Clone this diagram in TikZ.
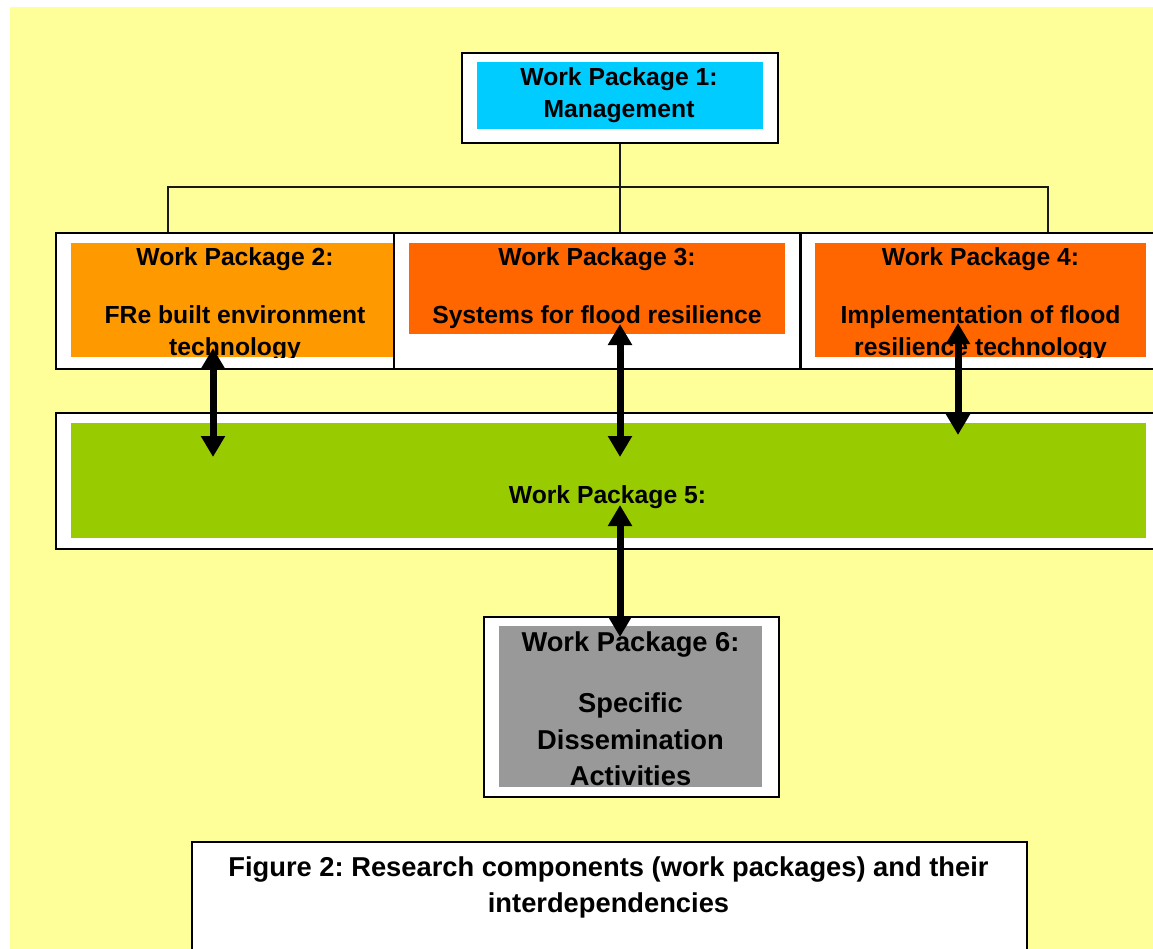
\documentclass[tikz,border=0pt]{standalone}
\usepackage{fontspec}
\setmainfont{Liberation Sans}
\usetikzlibrary{arrows.meta}
\frenchspacing
\definecolor{bgyellow}{HTML}{FFFF99}
\definecolor{wpcyan}{HTML}{00CCFF}
\definecolor{wporange}{HTML}{FF9900}
\definecolor{wpred}{HTML}{FF6600}
\definecolor{wpgreen}{HTML}{99CC00}
\definecolor{wpgray}{HTML}{999999}
\tikzset{
  outerbox/.style={draw=black, line width=1.8pt, fill=white, inner sep=0pt, anchor=north west},
  innerbox/.style={inner sep=0pt, anchor=north west, draw=none},
  wptext/.style={inner sep=0pt, anchor=base, font=\bfseries\fontsize{24.7}{30}\selectfont\frenchspacing},
  bigtext/.style={inner sep=0pt, anchor=base, font=\bfseries\fontsize{27.3}{33}\selectfont\frenchspacing},
  connector/.style={draw=black!90, line width=1.5pt},
  bigarrow/.style={line width=7pt, {Triangle[width=23pt,length=21pt]}-{Triangle[width=23pt,length=21pt]}}
}
\begin{document}
\begin{tikzpicture}[x=1pt,y=-1pt]
\clip (0,0) rectangle (1153,948);
\fill[white] (0,0) rectangle (1153,948);
\fill[bgyellow] (10,7) rectangle (1170,960);

% WP1
\node[outerbox, minimum width=316pt, minimum height=90pt] (wp1o) at (461,52) {};
\node[innerbox, fill=wpcyan, minimum width=286pt, minimum height=67pt] (wp1i) at (477,62) {};
\node[wptext] (wp1a) at (619,85) {Work Package 1:};
\node[wptext] (wp1b) at (619,117) {Management};

% WP2
\node[outerbox, minimum width=338pt, minimum height=136pt] (wp2o) at (55,232) {};
\node[innerbox, fill=wporange, minimum width=322pt, minimum height=114pt] (wp2i) at (71,243) {};
\begin{scope}
\clip (71,243) rectangle (393,357);
\node[wptext] (wp2a) at (235,265) {Work Package 2:};
\node[wptext] (wp2b) at (235,323) {FRe built environment};
\node[wptext] (wp2c) at (235,355) {technology};
\end{scope}

% WP3
\node[outerbox, minimum width=406pt, minimum height=136pt] (wp3o) at (393,232) {};
\node[innerbox, fill=wpred, minimum width=376pt, minimum height=91pt] (wp3i) at (409,243) {};
\node[wptext] (wp3a) at (597,265) {Work Package 3:};
\node[wptext] (wp3b) at (597,323) {Systems for flood resilience};

% WP4
\node[outerbox, minimum width=370pt, minimum height=136pt] (wp4o) at (800,232) {};
\node[innerbox, fill=wpred, minimum width=331pt, minimum height=114pt] (wp4i) at (815,243) {};
\begin{scope}
\clip (815,243) rectangle (1146,357);
\node[wptext] (wp4a) at (980.5,265) {Work Package 4:};
\node[wptext] (wp4b) at (980.5,323) {Implementation of flood};
\node[wptext] (wp4c) at (980.5,355) {resilience technology};
\end{scope}

% WP5
\node[outerbox, minimum width=1115pt, minimum height=136pt] (wp5o) at (55,412) {};
\node[innerbox, fill=wpgreen, minimum width=1075pt, minimum height=115pt] (wp5i) at (71,423) {};
\node[wptext] (wp5a) at (607.5,503) {Work Package 5:};

% WP6
\node[outerbox, minimum width=295pt, minimum height=180pt] (wp6o) at (483,616) {};
\node[innerbox, fill=wpgray, minimum width=263pt, minimum height=161pt] (wp6i) at (499,626) {};
\begin{scope}
\clip (499,626) rectangle (762,787);
\node[bigtext] (wp6a) at (630.5,651) {Work Package 6:};
\node[bigtext] (wp6b) at (630.5,712) {Specific};
\node[bigtext] (wp6c) at (630.5,749) {Dissemination};
\node[bigtext] (wp6d) at (630.5,785) {Activities};
\end{scope}

% Caption
\node[outerbox, minimum width=835pt, minimum height=140pt] (cap) at (191,841) {};
\node[bigtext] (capa) at (608.5,876) {Figure 2: Research components (work packages) and their};
\node[bigtext] (capb) at (608.5,912) {interdependencies};

% Tree connector
\coordinate (barL) at (168,187);
\coordinate (barR) at (1048,187);
\draw[connector] (wp1o.south) -- (wp1o.south |- barL);
\draw[connector] (barL |- wp2o.north) -- (barL) -- (barR) -- (barR |- wp4o.north);
\draw[connector] (wp1o.south |- barL) -- (wp1o.south |- wp3o.north);

% Double arrows
\coordinate (a1t) at (213,348);
\coordinate (a1b) at (213,457);
\coordinate (a2t) at (620,324);
\coordinate (a2b) at (620,457);
\coordinate (a3t) at (958,323);
\coordinate (a3b) at (958,435);
\coordinate (a4t) at (620,505);
\coordinate (a4b) at (620,637);
\draw[bigarrow] (a1t) -- (a1b);
\draw[bigarrow] (a2t) -- (a2b);
\draw[bigarrow] (a3t) -- (a3b);
\draw[bigarrow] (a4t) -- (a4b);
\end{tikzpicture}
\end{document}
